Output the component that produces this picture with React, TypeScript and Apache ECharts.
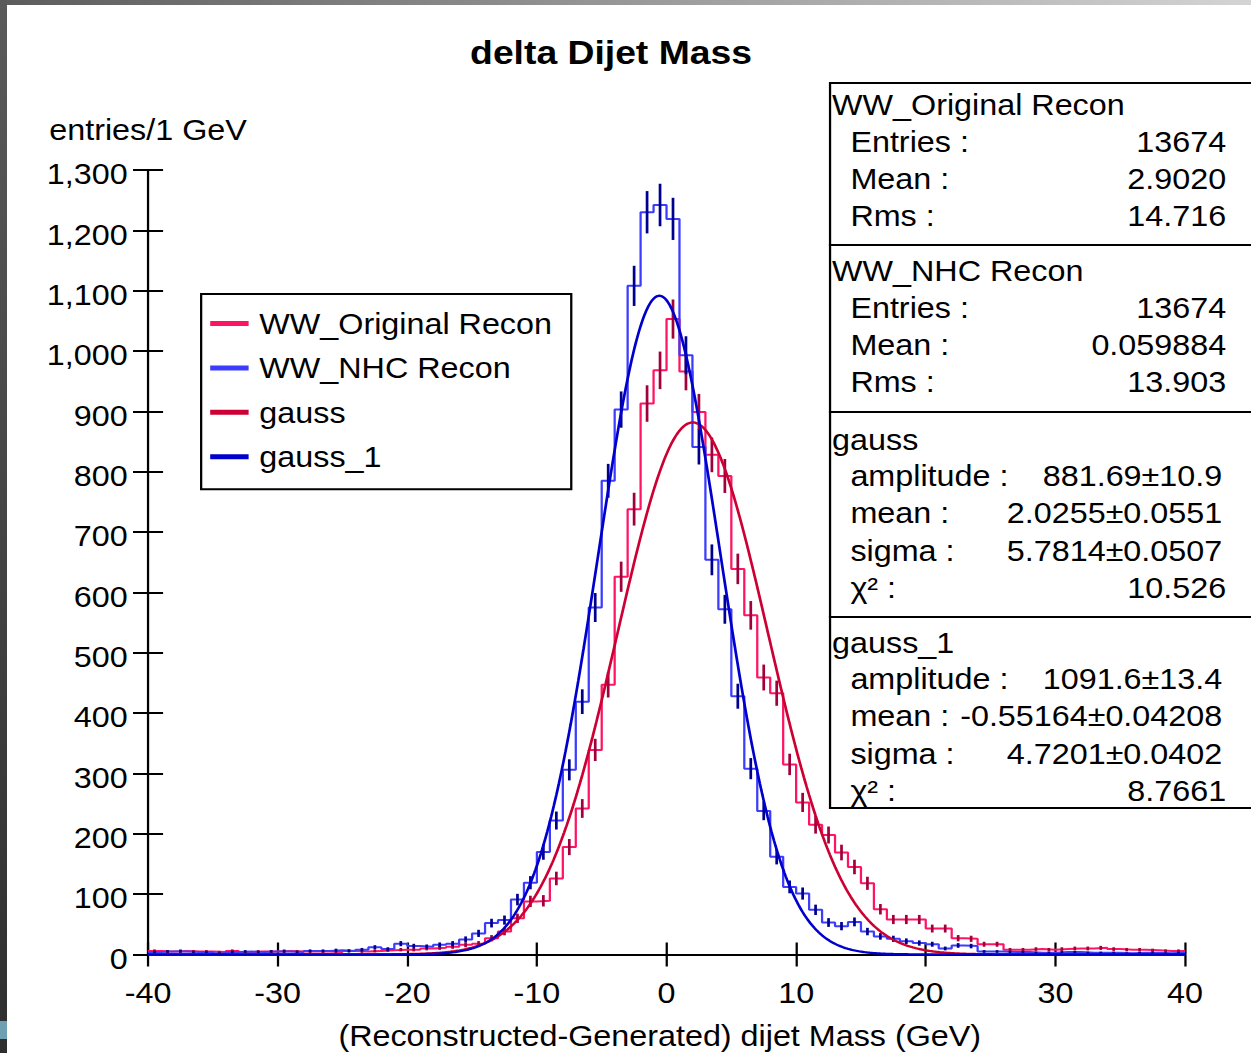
import React, { useEffect, useRef } from "react";
import * as echarts from "echarts";

// Page and drawing surface. The chart is laid out on a narrower surface and
// stretched horizontally to fill the page, which gives the wide lettering.
const PAGE_W = 1251;
const PAGE_H = 1053;
const CHART_W = 1107;
const STRETCH = PAGE_W / CHART_W;

const FONT = '"Liberation Sans", Arial, Helvetica, sans-serif';
const TEXT_SIZE = 28.6;

// Histogram binning (GeV)
const BIN_START = -40;
const BIN_WIDTH = 1;

// Entries per 1 GeV bin, from -40 GeV to +40 GeV
const originalCounts = [
  6, 5, 6, 5, 5, 4, 6, 4, 5, 5, 6, 5, 5, 5, 4, 6, 5, 6, 7, 8, 8, 10, 11, 13,
  16, 18, 27, 38, 60, 88, 89, 126, 178, 242, 339, 447, 626, 738, 913, 968,
  1053, 966, 899, 828, 793, 639, 562, 459, 433, 315, 252, 215, 198, 169, 145, 118,
  75, 58, 58, 58, 43, 43, 27, 26, 17, 17,
  8, 8, 9, 8, 9, 10, 10, 11, 9, 8, 8, 7, 6, 6,
];

const nhcCounts = [
  4, 5, 5, 4, 4, 2, 4, 5, 4, 5, 5, 4, 6, 6, 7, 6, 8, 12, 9, 18, 14, 13, 16, 18,
  25, 35, 52, 57, 91, 119, 170, 222, 306, 419, 575, 785, 903, 1108, 1230, 1242,
  1219, 993, 841, 654, 572, 428, 308, 238, 162, 112, 101, 74, 53, 47, 54, 38,
  30, 26, 22, 19, 17, 10, 15, 14,
  5, 5, 4, 4, 3, 3, 4, 4, 3, 3, 3, 2, 3, 3, 2, 3,
];

// Gaussian fit results
const gaussFit = { amplitude: 881.69, ampErr: 10.9, mean: 2.0255, meanErr: 0.0551, sigma: 5.7814, sigmaErr: 0.0507, chi2: "10.526" };
const gauss1Fit = { amplitude: 1091.6, ampErr: 13.4, mean: -0.55164, meanErr: 0.04208, sigma: 4.7201, sigmaErr: 0.0402, chi2: "8.7661" };

// Histogram statistics
const originalStats = { entries: "13674", mean: "2.9020", rms: "14.716" };
const nhcStats = { entries: "13674", mean: "0.059884", rms: "13.903" };

// Axis ranges
const X_MIN = -40;
const X_MAX = 40;
const X_STEP = 10;
const Y_MIN = 0;
const Y_MAX = 1300;
const Y_STEP = 100;

const TITLE = "delta Dijet Mass";
const X_NAME = "(Reconstructed-Generated) dijet Mass (GeV)";
const Y_NAME = "entries/1 GeV";

const NAMES = ["WW_Original Recon", "WW_NHC Recon", "gauss", "gauss_1"];

// Colours
const C_ORIG = "#ff1464";
const C_ORIG_ERR = "#a0003c";
const C_NHC = "#3c3cff";
const C_NHC_ERR = "#00008f";
const C_GAUSS = "#cc0033";
const C_GAUSS1 = "#0000cc";

function stepPoints(counts: number[]) {
  const pts = counts.map((c, i) => [BIN_START + i * BIN_WIDTH, c]);
  pts.push([BIN_START + counts.length * BIN_WIDTH, counts[counts.length - 1]]);
  return pts;
}

function centerPoints(counts: number[]) {
  return counts.map((c, i) => [BIN_START + (i + 0.5) * BIN_WIDTH, c]);
}

// Sample a fitted Gaussian over the axis range
function gaussCurve(fit: { amplitude: number; mean: number; sigma: number }) {
  const pts: number[][] = [];
  for (let k = 0; k <= 800; k++) {
    const x = X_MIN + (k * (X_MAX - X_MIN)) / 800;
    const z = (x - fit.mean) / fit.sigma;
    pts.push([x, fit.amplitude * Math.exp(-0.5 * z * z)]);
  }
  return pts;
}

function errorBarSeries(counts: number[], color: string) {
  return {
    type: "custom",
    silent: true,
    z: 4,
    data: centerPoints(counts),
    encode: { x: 0, y: 1 },
    renderItem: (_params: any, api: any) => {
      const x = api.value(0);
      const y = api.value(1);
      const err = Math.sqrt(y);
      const lo = api.coord([x, y - err]);
      const hi = api.coord([x, y + err]);
      return {
        type: "line",
        shape: { x1: lo[0], y1: lo[1], x2: hi[0], y2: hi[1] },
        style: { stroke: color, lineWidth: 2.4 },
      };
    },
  };
}

function withCommas(v: number) {
  return String(v).replace(/\B(?=(\d{3})+(?!\d))/g, ",");
}

// Statistics panel on the right-hand side
const BOX_LEFT = 734.5;
const BOX_RIGHT = 1125;
const BOX_TOPS = [83, 245, 412, 617];
const BOX_BOTTOM = 808;
const HEADER_Y = [104.7, 270.7, 439.3, 642.3];
const ROW_FIRST = 36.5;
const ROW_STEP = 37.3;
const HEADER_X = 736.3;
const LABEL_X = 752.5;
const VALUE_RIGHT = 1085;
const PARAM_RIGHT = 1081.5;

function fitRows(fit: typeof gaussFit) {
  return [
    ["amplitude :", `${fit.amplitude}±${fit.ampErr}`, PARAM_RIGHT],
    ["mean :", `${fit.mean}±${fit.meanErr}`, PARAM_RIGHT],
    ["sigma :", `${fit.sigma}±${fit.sigmaErr}`, PARAM_RIGHT],
    ["χ² :", fit.chi2, VALUE_RIGHT],
  ];
}

function statRows(st: typeof originalStats) {
  return [
    ["Entries :", st.entries, VALUE_RIGHT],
    ["Mean :", st.mean, VALUE_RIGHT],
    ["Rms :", st.rms, VALUE_RIGHT],
  ];
}

function statsGraphics() {
  const boxes = [
    { title: NAMES[0], rows: statRows(originalStats) },
    { title: NAMES[1], rows: statRows(nhcStats) },
    { title: NAMES[2], rows: fitRows(gaussFit) },
    { title: NAMES[3], rows: fitRows(gauss1Fit) },
  ];
  const textStyle = { fontSize: TEXT_SIZE, fontFamily: FONT, fill: "#000", verticalAlign: "middle" };
  const els: any[] = [];
  boxes.forEach((box, b) => {
    const top = BOX_TOPS[b];
    const bottom = b < BOX_TOPS.length - 1 ? BOX_TOPS[b + 1] : BOX_BOTTOM;
    els.push({
      type: "rect",
      z: 100,
      shape: { x: BOX_LEFT, y: top, width: BOX_RIGHT - BOX_LEFT, height: bottom - top },
      style: { fill: "#ffffff", stroke: "#000000", lineWidth: 2 },
    });
    els.push({
      type: "text",
      z: 101,
      x: HEADER_X,
      y: HEADER_Y[b],
      style: { ...textStyle, text: box.title, align: "left" },
    });
    box.rows.forEach((row, r) => {
      const y = HEADER_Y[b] + ROW_FIRST + r * ROW_STEP;
      els.push({
        type: "text",
        z: 101,
        x: LABEL_X,
        y,
        style: { ...textStyle, text: row[0], align: "left" },
      });
      els.push({
        type: "text",
        z: 101,
        x: row[2],
        y,
        style: { ...textStyle, text: row[1], align: "right" },
      });
    });
  });
  return els;
}

function frameGraphics() {
  return [
    {
      type: "rect",
      z: 200,
      shape: { x: 0, y: 0, width: CHART_W, height: 5 },
      style: {
        fill: {
          type: "linear", x: 0, y: 0, x2: 1, y2: 0,
          colorStops: [
            { offset: 0, color: "#5c5c5c" },
            { offset: 1, color: "#d4d4d4" },
          ],
        },
      },
    },
    {
      type: "rect",
      z: 200,
      shape: { x: 0, y: 0, width: 6.2, height: PAGE_H },
      style: {
        fill: {
          type: "linear", x: 0, y: 0, x2: 0, y2: 1,
          colorStops: [
            { offset: 0, color: "#5a5a5a" },
            { offset: 1, color: "#2e2e2e" },
          ],
        },
      },
    },
    {
      type: "rect",
      z: 201,
      shape: { x: 0, y: 1021, width: 6.2, height: 18 },
      style: { fill: "#6f9fb2" },
    },
  ];
}

function buildOption() {
  const axisText = { fontSize: TEXT_SIZE, fontFamily: FONT, color: "#000" };
  const black = { color: "#000", width: 2 };
  return {
    animation: false,
    backgroundColor: "#ffffff",
    title: {
      text: TITLE,
      left: 416,
      top: 36,
      padding: 0,
      textStyle: { fontSize: 33, fontWeight: "bold", fontFamily: FONT, color: "#000" },
    },
    legend: {
      orient: "vertical",
      left: 178,
      top: 294,
      padding: [15, 17, 18, 8],
      itemWidth: 34,
      itemHeight: 5,
      itemGap: 15.4,
      icon: "rect",
      borderColor: "#000",
      borderWidth: 2,
      selectedMode: false,
      textStyle: { fontSize: TEXT_SIZE, fontFamily: FONT, color: "#000", padding: [0, 0, 0, 4.5] },
      data: NAMES,
    },
    grid: { left: 131, right: 58.4, top: 170, bottom: 98.5, outerBoundsMode: "none" },
    xAxis: [
      {
        type: "value",
        position: "bottom",
        min: X_MIN,
        max: X_MAX,
        interval: X_STEP,
        axisLine: { show: true, onZero: false, lineStyle: black },
        axisTick: { show: true, inside: false, length: 12, lineStyle: black },
        axisLabel: { ...axisText, margin: 23.5 },
        splitLine: { show: false },
        name: X_NAME,
        nameLocation: "middle",
        nameGap: 66.5,
        nameTextStyle: { ...axisText, padding: [0, 12, 0, 0] },
      },
      {
        type: "value",
        position: "bottom",
        min: X_MIN,
        max: X_MAX,
        interval: X_STEP,
        axisLine: { show: false, onZero: false },
        axisTick: { show: true, inside: true, length: 12, lineStyle: black },
        axisLabel: { show: false },
        splitLine: { show: false },
      },
    ],
    yAxis: [
      {
        type: "value",
        position: "left",
        min: Y_MIN,
        max: Y_MAX,
        interval: Y_STEP,
        axisLine: { show: true, onZero: false, lineStyle: black },
        axisTick: { show: true, inside: false, length: 13.3, lineStyle: black },
        axisLabel: {
          ...axisText,
          margin: 18,
          formatter: (v: number) => `{n|${withCommas(v)}}`,
          rich: { n: { ...axisText, padding: [8, 0, 0, 0] } },
        },
        splitLine: { show: false },
        name: Y_NAME,
        nameLocation: "end",
        nameGap: 40,
        nameTextStyle: { ...axisText, align: "center", verticalAlign: "middle" },
      },
      {
        type: "value",
        position: "left",
        min: Y_MIN,
        max: Y_MAX,
        interval: Y_STEP,
        axisLine: { show: false, onZero: false },
        axisTick: { show: true, inside: true, length: 13.3, lineStyle: black },
        axisLabel: { show: false },
        splitLine: { show: false },
      },
    ],
    series: [
      {
        name: NAMES[0],
        type: "line",
        step: "end",
        data: stepPoints(originalCounts),
        showSymbol: false,
        color: C_ORIG,
        lineStyle: { color: C_ORIG, width: 2 },
        z: 2,
      },
      {
        name: NAMES[1],
        type: "line",
        step: "end",
        data: stepPoints(nhcCounts),
        showSymbol: false,
        color: C_NHC,
        lineStyle: { color: C_NHC, width: 2 },
        z: 3,
      },
      errorBarSeries(originalCounts, C_ORIG_ERR),
      errorBarSeries(nhcCounts, C_NHC_ERR),
      {
        name: NAMES[2],
        type: "line",
        data: gaussCurve(gaussFit),
        showSymbol: false,
        color: C_GAUSS,
        lineStyle: { color: C_GAUSS, width: 2.4 },
        z: 5,
      },
      {
        name: NAMES[3],
        type: "line",
        data: gaussCurve(gauss1Fit),
        showSymbol: false,
        color: C_GAUSS1,
        lineStyle: { color: C_GAUSS1, width: 2.4 },
        z: 6,
      },
    ],
    graphic: [...statsGraphics(), ...frameGraphics()],
  };
}

export default function App() {
  const ref = useRef<HTMLDivElement>(null);
  useEffect(() => {
    const el = ref.current;
    if (!el) return;
    const chart = echarts.init(el, null, { renderer: "svg", width: CHART_W, height: PAGE_H });
    chart.setOption(buildOption() as any);
    return () => chart.dispose();
  }, []);
  return (
    <div
      style={{
        position: "fixed",
        left: 0,
        top: 0,
        width: PAGE_W,
        height: PAGE_H,
        overflow: "hidden",
        background: "#ffffff",
      }}
    >
      <div
        ref={ref}
        style={{
          width: CHART_W,
          height: PAGE_H,
          transform: `scaleX(${STRETCH})`,
          transformOrigin: "0 0",
        }}
      />
    </div>
  );
}
